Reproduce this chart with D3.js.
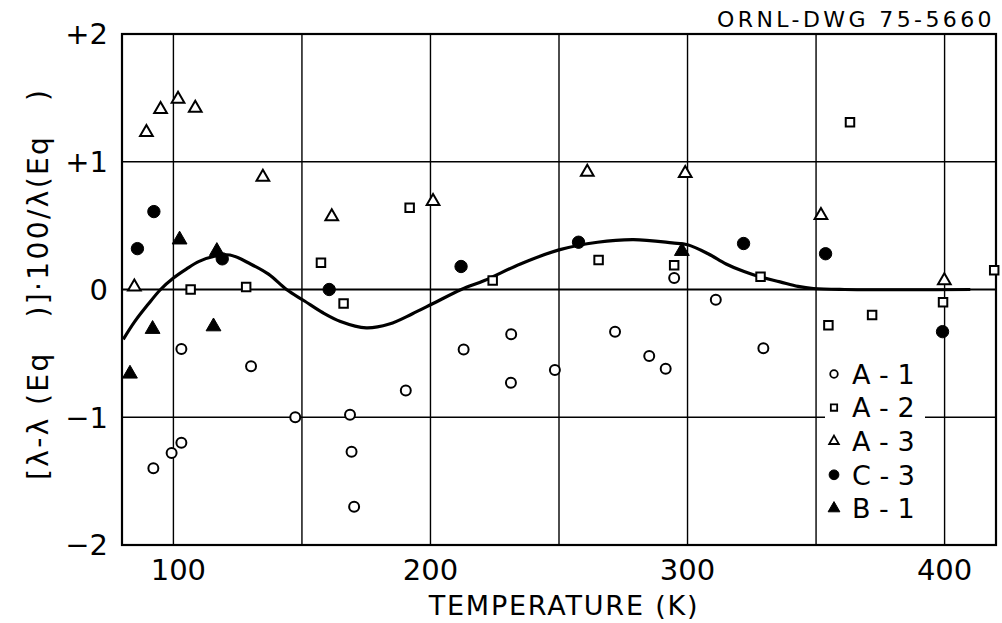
<!DOCTYPE html>
<html>
<head>
<meta charset="utf-8">
<script src="https://cdn.jsdelivr.net/npm/d3@7"></script>
<style>
    body { margin: 0; background: #fff; }
    text { font-family: "DejaVu Sans", sans-serif; fill: #000; }
</style>
</head>
<body>
<script>
// Temperature (K) and deviation values
let a1Temp = [92.2, 99.3, 103.1, 103.1, 130.2, 147.4, 168.7, 169.3, 170.3, 190.4, 212.9, 231.4, 231.3, 248.4, 271.8, 285.1, 291.5, 294.8, 311.0, 329.5];
let a1Dev  = [-1.40, -1.28, -1.20, -0.465, -0.60, -1.00, -0.98, -1.27, -1.70, -0.79, -0.47, -0.35, -0.73, -0.63, -0.33, -0.52, -0.62, 0.09, -0.08, -0.46];

let a2Temp = [106.7, 128.3, 157.4, 166.2, 191.9, 224.2, 265.4, 294.8, 328.4, 354.8, 363.2, 371.8, 399.4, 419.3];
let a2Dev  = [0.00, 0.02, 0.21, -0.11, 0.64, 0.07, 0.23, 0.19, 0.10, -0.28, 1.31, -0.20, -0.10, 0.15];

let a3Temp = [84.8, 89.5, 95.0, 101.8, 108.5, 134.8, 161.6, 201.0, 261.0, 299.1, 351.9, 399.9];
let a3Dev  = [0.02, 1.23, 1.41, 1.49, 1.42, 0.88, 0.57, 0.69, 0.92, 0.91, 0.58, 0.07];

let c3Temp = [86.0, 92.4, 119.0, 160.6, 211.9, 257.6, 321.8, 353.7, 399.2];
let c3Dev  = [0.32, 0.61, 0.24, 0.00, 0.18, 0.37, 0.36, 0.28, -0.33];

let b1Temp = [83.1, 91.9, 102.4, 115.6, 116.9, 297.8];
let b1Dev  = [-0.66, -0.31, 0.39, -0.29, 0.30, 0.30];

// smooth fitted curve
let fitTemp = [80.5, 85, 90, 95, 100, 105, 110, 116, 122, 130, 137, 144, 151, 158, 165, 175, 184, 193, 201, 212, 221, 235, 250, 265, 279, 294, 300, 308, 315, 322, 328, 336, 343, 349, 361, 410];
let fitDev  = [-0.39, -0.25, -0.12, 0.00, 0.09, 0.16, 0.22, 0.26, 0.27, 0.20, 0.12, 0.00, -0.09, -0.18, -0.25, -0.30, -0.27, -0.19, -0.11, 0.00, 0.07, 0.20, 0.31, 0.37, 0.39, 0.365, 0.35, 0.28, 0.20, 0.14, 0.10, 0.06, 0.025, 0.008, 0.0, 0.0];

let xTicks = [100, 200, 300, 400];
let xGrid = [100, 150, 200, 250, 300, 350, 400];
let yTicks = [-2, -1, 0, 1, 2];
let yTickLabels = ["\u22122", "\u22121", "0", "+1", "+2"];

let seriesNames = ["A - 1", "A - 2", "A - 3", "C - 3", "B - 1"];

let width = 1002;
let height = 623;

let svg = d3.select("body").append("svg")
    .attr("width", width)
    .attr("height", height);

let plotLeft = 122, plotRight = 996, plotTop = 34, plotBottom = 545;

let x = d3.scaleLinear().domain([80, 420]).range([plotLeft, plotRight]);
let y = d3.scaleLinear().domain([-2, 2]).range([plotBottom, plotTop]);

// grid
svg.append("g")
    .selectAll("line")
    .data(xGrid)
    .enter().append("line")
    .attr("x1", d => x(d)).attr("x2", d => x(d))
    .attr("y1", plotTop).attr("y2", plotBottom)
    .attr("stroke", "#000").attr("stroke-width", 1.4);

svg.append("g")
    .selectAll("line")
    .data(yTicks)
    .enter().append("line")
    .attr("x1", plotLeft).attr("x2", plotRight)
    .attr("y1", d => y(d)).attr("y2", d => y(d))
    .attr("stroke", "#000").attr("stroke-width", d => d === 0 ? 2 : 1.4);

// frame
svg.append("rect")
    .attr("x", plotLeft).attr("y", plotTop)
    .attr("width", plotRight - plotLeft).attr("height", plotBottom - plotTop)
    .attr("fill", "none").attr("stroke", "#000").attr("stroke-width", 2.2);

// tick labels
svg.append("g")
    .selectAll("text")
    .data(yTicks)
    .enter().append("text")
    .attr("x", 108)
    .attr("y", d => y(d))
    .attr("dy", "0.36em")
    .attr("text-anchor", "end")
    .style("font-size", "29px")
    .text((d, i) => yTickLabels[i]);

svg.append("g")
    .selectAll("text")
    .data(xTicks)
    .enter().append("text")
    .attr("x", d => x(d) + (d === 100 ? 5 : 0))
    .attr("y", 580)
    .attr("text-anchor", "middle")
    .style("font-size", "29px")
    .text(d => d);

// axis titles
svg.append("text")
    .attr("x", 564).attr("y", 615)
    .attr("text-anchor", "middle")
    .style("font-size", "27px")
    .style("letter-spacing", "1.8px")
    .text("TEMPERATURE (K)");

svg.append("text")
    .attr("transform", "translate(48,285) rotate(-90)")
    .attr("text-anchor", "middle")
    .attr("textLength", 390)
    .attr("lengthAdjust", "spacing")
    .style("font-size", "28px")
    .style("white-space", "pre")
    .text("[\u03bb-\u03bb (Eq   )]\u00b7100/\u03bb(Eq   )");

svg.append("text")
    .attr("x", 995).attr("y", 27)
    .attr("text-anchor", "end")
    .style("font-size", "22px")
    .style("letter-spacing", "3.4px")
    .text("ORNL-DWG 75-5660");

// fitted curve
let line = d3.line()
    .x(d => x(d[0]))
    .y(d => y(d[1]))
    .curve(d3.curveCatmullRom);

svg.append("path")
    .datum(d3.zip(fitTemp, fitDev))
    .attr("d", line)
    .attr("fill", "none")
    .attr("stroke", "#000")
    .attr("stroke-width", 3.2);

// marker shapes
let symbols = [
    d3.symbol().type(d3.symbolCircle).size(78),
    d3.symbol().type(d3.symbolSquare).size(72),
    d3.symbol().type(d3.symbolTriangle).size(70),
    d3.symbol().type(d3.symbolCircle).size(120),
    d3.symbol().type(d3.symbolTriangle).size(95)
];
let filled = [false, false, false, true, true];
let series = [
    d3.zip(a1Temp, a1Dev),
    d3.zip(a2Temp, a2Dev),
    d3.zip(a3Temp, a3Dev),
    d3.zip(c3Temp, c3Dev),
    d3.zip(b1Temp, b1Dev)
];

series.forEach((pts, i) => {
    svg.append("g")
        .selectAll("path")
        .data(pts)
        .enter().append("path")
        .attr("d", symbols[i])
        .attr("transform", d => `translate(${x(d[0])},${y(d[1])})`)
        .attr("fill", filled[i] ? "#000" : "#fff")
        .attr("stroke", "#000")
        .attr("stroke-width", filled[i] ? 1 : 2);
});

// legend, white behind the text so the gridline breaks
let legendSymbols = [
    d3.symbol().type(d3.symbolCircle).size(45),
    d3.symbol().type(d3.symbolSquare).size(40),
    d3.symbol().type(d3.symbolTriangle).size(40),
    d3.symbol().type(d3.symbolCircle).size(75),
    d3.symbol().type(d3.symbolTriangle).size(60)
];

let legend = svg.append("g");
legend.append("rect")
    .attr("x", 825).attr("y", 357)
    .attr("width", 100).attr("height", 168)
    .attr("fill", "#fff");

let rows = legend.selectAll("g")
    .data(seriesNames)
    .enter().append("g")
    .attr("transform", (d, i) => `translate(834,${374 + i * 33.6})`);

rows.append("path")
    .attr("d", (d, i) => legendSymbols[i]())
    .attr("fill", (d, i) => filled[i] ? "#000" : "#fff")
    .attr("stroke", "#000")
    .attr("stroke-width", (d, i) => filled[i] ? 1 : 1.8);

rows.append("text")
    .attr("x", 18)
    .attr("dy", "0.36em")
    .style("font-size", "27px")
    .text(d => d);
</script>
</body>
</html>
